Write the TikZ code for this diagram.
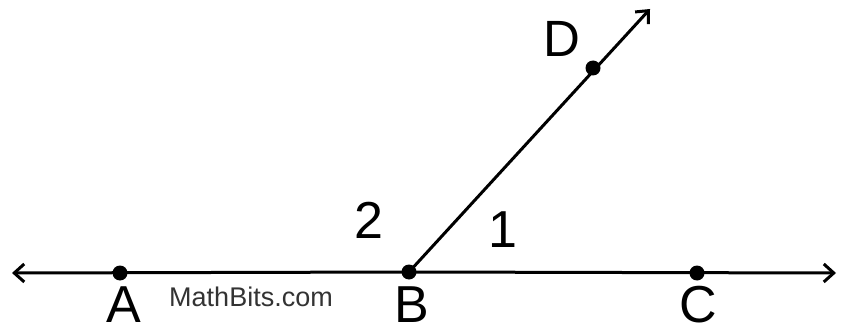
\documentclass[tikz,border=0pt]{standalone}
\usepackage{fontspec}
\setmainfont{Liberation Sans}
\usetikzlibrary{arrows.meta}
\begin{document}
\begin{tikzpicture}[x=1pt,y=-1pt,
  ptdot/.style={circle,fill=black,inner sep=0pt,minimum size=15pt},
  ray/.style={line width=3pt,-{Straight Barb[length=10pt,width=18pt,line width=3pt]}},
  biglbl/.style={font=\fontsize{52}{52}\selectfont,inner sep=0pt,anchor=base},
  numlbl/.style={font=\fontsize{52}{52}\selectfont,inner sep=0pt}]
\useasboundingbox (0,0) rectangle (846,334);
\node[ptdot] (A) at (120,273) {};
\node[ptdot] (B) at (409,272) {};
\node[ptdot] (C) at (697,273) {};
\node[ptdot] (D) at (593,68) {};
\coordinate (L) at (12,273);
\coordinate (R) at (836,273);
\coordinate (T) at (650,9);
\draw[ray] (B.center) -- (L);
\draw[ray] (B.center) -- (R);
\draw[ray] (B.center) -- (T);
\node[biglbl] (la) at (124,322) {A};
\node[biglbl] (lb) at (412,322) {B};
\node[biglbl] (lc) at (698,322) {C};
\node[numlbl,font=\fontsize{51}{51}\selectfont] (ld) at (562,39) {D};
\node[numlbl] (n1) at (503,230) {1};
\node[numlbl] (n2) at (369,220) {2};
\node[inner sep=0pt,text=black!80,font=\fontsize{27}{27}\selectfont] (mb) at (251,297) {MathBits.com};
\end{tikzpicture}
\end{document}
